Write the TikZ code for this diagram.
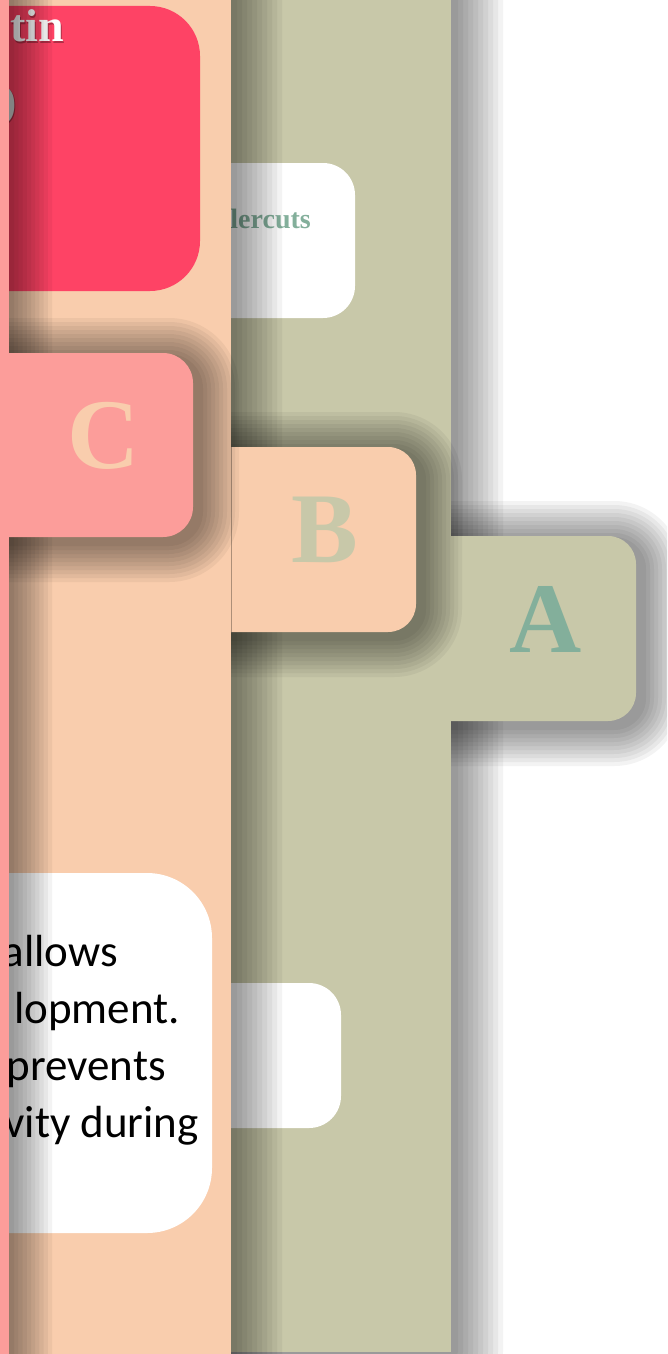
\documentclass[tikz,border=0pt]{standalone}
\usepackage{fontspec}
\setmainfont{Liberation Serif}
\newfontfamily\calib{Carlito}
\definecolor{cOlive}{HTML}{C8C8A9}
\definecolor{cPeach}{HTML}{F9CDAD}
\definecolor{cPink}{HTML}{FC9D9A}
\definecolor{cRed}{HTML}{FE4365}
\definecolor{cTeal}{HTML}{83AF9B}
\newcommand\softshadow[6]{%
  \foreach \i [evaluate=\i as \r using #5+\i*#6, evaluate=\i as \d using \i*#6] in {1,...,10}{%
    \fill[shadowfill, rounded corners=\r pt] (#1-\d,#2-\d) rectangle (#3+\d,#4+\d);}}
\begin{document}
\begin{tikzpicture}[x=1pt,y=-1pt,
  shadowfill/.style={fill=black,fill opacity=0.046},
  bigletter/.style={font=\fontsize{100}{100}\selectfont\bfseries, inner sep=0pt},
  bodytext/.style={font=\calib\fontsize{45}{45}\selectfont, text=black, anchor=base east, inner sep=0pt},
  titletext/.style={font=\fontsize{46}{46}\selectfont\bfseries, anchor=base east, inner sep=0pt}]
\useasboundingbox (0,0) rectangle (667,1354);
\clip (0,0) rectangle (667,1354);
\fill[white] (0,0) rectangle (667,1354);
% ---- olive layer
\softshadow{150}{-80}{453}{1352}{0}{5}
\softshadow{400}{541}{642}{726}{28}{4}
\fill[cOlive] (150,-80) rectangle (451,1352);
\fill[cOlive, rounded corners=28pt] (400,536) rectangle (636,721);
\node[bigletter, text=cTeal] (lblA) at (546,619) {A};
\fill[white, rounded corners=32pt] (150,163) rectangle (355,318);
\node[font=\fontsize{28}{28}\selectfont\bfseries, text=cTeal, anchor=base east, inner sep=0pt] (undercuts) at (311,228) {lercuts};
\fill[white, rounded corners=32pt] (150,983) rectangle (341,1128);
% ---- peach layer
\softshadow{-50}{-80}{232}{1420}{0}{5}
\softshadow{150}{452}{422}{637}{28}{4}
\fill[cPeach] (-50,-80) rectangle (231,1420);
\fill[cPeach, rounded corners=28pt] (150,447) rectangle (416,632);
\draw[black, opacity=0.3, line width=0.7pt] (231,447) -- (231,632);
\node[bigletter, text=cOlive] (lblB) at (325,530) {B};
\fill[cRed, rounded corners=50pt] (-80,6) rectangle (200,291);
\node[titletext, text=black, opacity=0.3] (titleS) at (65.5,43.5) {tin};
\node[titletext, text=white] (title) at (64,42) {tin};
\node[titletext, text=black, opacity=0.3] (parenS) at (18.5,117.5) {)};
\node[titletext, text=white!85!black] (paren) at (17,116) {)};
\fill[white, rounded corners=65pt] (-100,873) rectangle (212,1233);
\node[bodytext] (l1) at (118,966) {allows};
\node[bodytext] (l2) at (180,1023) {lopment.};
\node[bodytext] (l3) at (166,1080) {prevents};
\node[bodytext] (l4) at (199,1137) {vity during};
% ---- pink layer
\softshadow{-50}{-80}{10}{1420}{0}{4.2}
\softshadow{-50}{358}{199}{542}{30}{4}
\fill[cPink] (-50,-80) rectangle (9,1420);
\fill[cPink, rounded corners=30pt] (-50,353) rectangle (193,537);
\node[bigletter, text=cPeach] (lblC) at (104,436) {C};
\end{tikzpicture}
\end{document}
